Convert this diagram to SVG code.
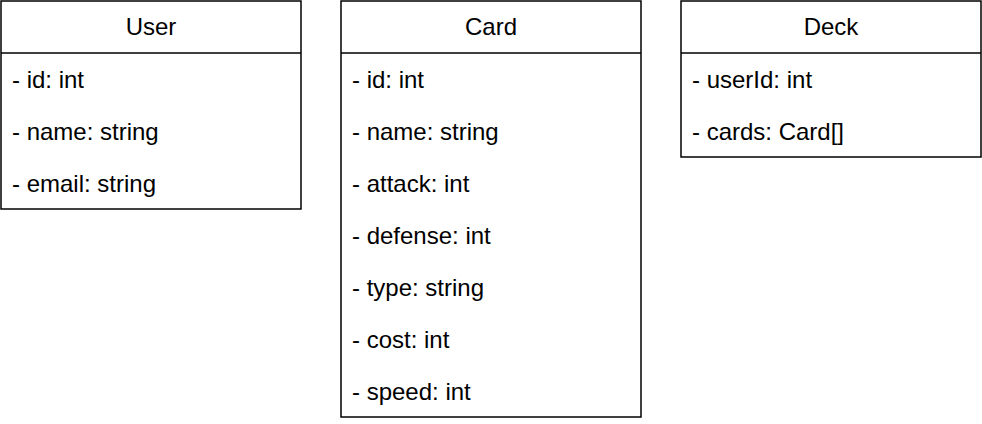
<svg xmlns="http://www.w3.org/2000/svg" width="982" height="424" viewBox="0 0 982 424">
<style>
.box{fill:#fff;stroke:#000;stroke-width:1.5}
.ln{stroke:#000;stroke-width:1.5}
.h{font-family:"Liberation Sans",Arial,sans-serif;font-size:24px;fill:#000;text-anchor:middle}
.t{font-family:"Liberation Sans",Arial,sans-serif;font-size:24px;fill:#000}
</style>
<rect width="982" height="424" fill="#fff"/>
<g id="connectors"></g>
<g id="user">
<rect class="box" x="1" y="1" width="300" height="208"/>
<line class="ln" x1="1" y1="53" x2="301" y2="53"/>
<text class="h" x="151" y="34.5">User</text>
<text class="t" x="12" y="87.5">- id: int</text>
<text class="t" x="12" y="139.5">- name: string</text>
<text class="t" x="12" y="191.5">- email: string</text>
</g>
<g id="card">
<rect class="box" x="341" y="1" width="300" height="416"/>
<line class="ln" x1="341" y1="53" x2="641" y2="53"/>
<text class="h" x="491" y="34.5">Card</text>
<text class="t" x="352" y="87.5">- id: int</text>
<text class="t" x="352" y="139.5">- name: string</text>
<text class="t" x="352" y="191.5">- attack: int</text>
<text class="t" x="352" y="243.5">- defense: int</text>
<text class="t" x="352" y="295.5">- type: string</text>
<text class="t" x="352" y="347.5">- cost: int</text>
<text class="t" x="352" y="399.5">- speed: int</text>
</g>
<g id="deck">
<rect class="box" x="681" y="1" width="300" height="156"/>
<line class="ln" x1="681" y1="53" x2="981" y2="53"/>
<text class="h" x="831" y="34.5">Deck</text>
<text class="t" x="692" y="87.5">- userId: int</text>
<text class="t" x="692" y="139.5">- cards: Card[]</text>
</g>
</svg>
